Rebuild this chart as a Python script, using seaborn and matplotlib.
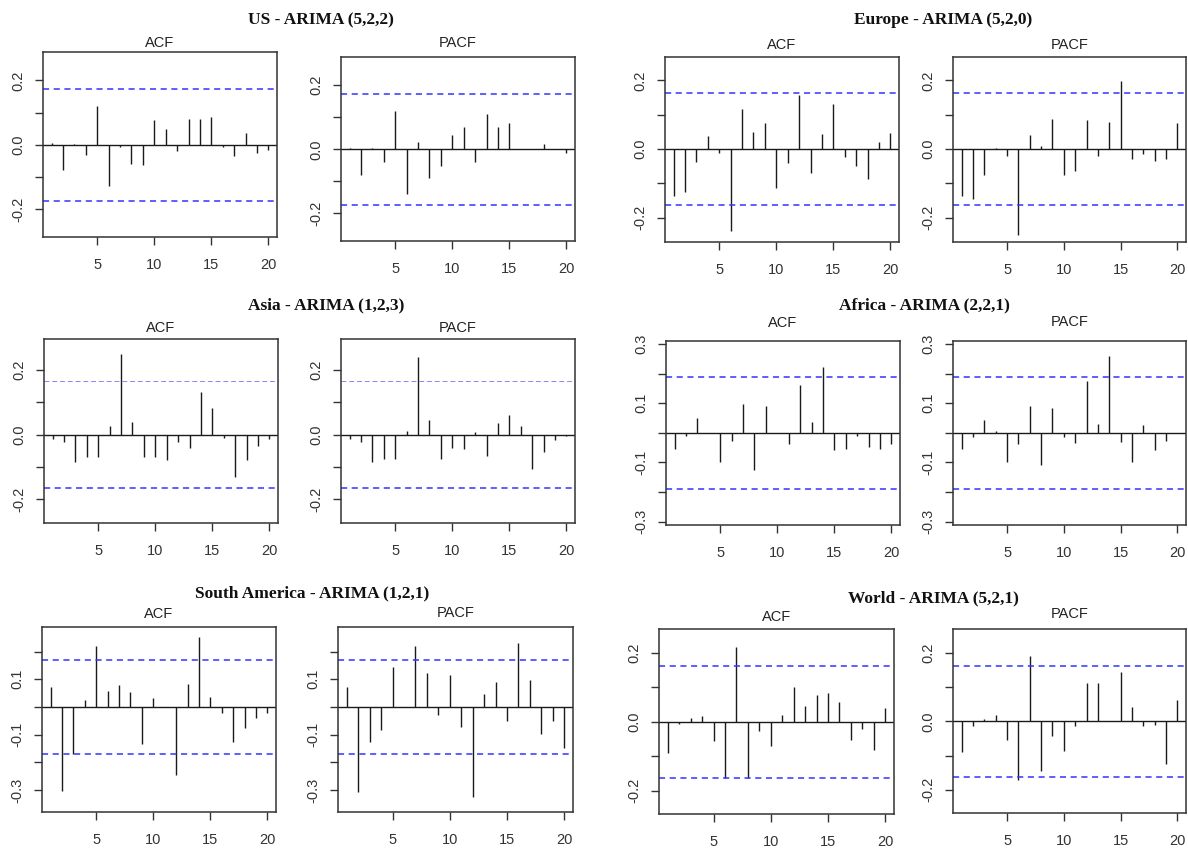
import matplotlib
matplotlib.use("Agg")
import matplotlib.pyplot as plt
import seaborn as sns
import numpy as np

# lags shown on every panel
lags = list(range(1, 21))

# residual ACF / PACF values
us_acf = [0.006, -0.078, 0.004, -0.031, 0.120, -0.128, -0.006, -0.058, -0.064, 0.076,
          0.048, -0.020, 0.081, 0.079, 0.086, -0.007, -0.035, 0.038, -0.025, -0.015]
us_pacf = [0.005, -0.081, 0.004, -0.040, 0.118, -0.140, 0.024, -0.090, -0.052, 0.046,
           0.071, -0.040, 0.110, 0.070, 0.081, 0.000, 0.000, 0.017, 0.000, -0.013]
eu_acf = [-0.138, -0.125, -0.037, 0.039, -0.013, -0.240, 0.117, 0.050, 0.076, -0.115,
          -0.042, 0.158, -0.071, 0.043, 0.132, -0.024, -0.049, -0.087, 0.019, 0.047]
eu_pacf = [-0.138, -0.147, -0.076, 0.004, -0.019, -0.250, 0.042, 0.009, 0.088, -0.076,
           -0.065, 0.085, -0.021, 0.079, 0.199, -0.028, -0.015, -0.034, -0.028, 0.076]
asia_acf = [-0.014, -0.022, -0.086, -0.071, -0.068, 0.027, 0.250, 0.040, -0.071, -0.071,
            -0.078, -0.022, -0.042, 0.131, 0.081, -0.010, -0.133, -0.078, -0.035, -0.015]
asia_pacf = [-0.014, -0.022, -0.086, -0.075, -0.075, 0.011, 0.241, 0.045, -0.075, -0.043,
             -0.045, 0.007, -0.067, 0.036, 0.062, 0.026, -0.107, -0.055, -0.018, -0.003]
africa_acf = [-0.053, -0.010, 0.049, 0.000, -0.100, -0.026, 0.097, -0.124, 0.089, 0.000,
              -0.038, 0.162, 0.035, 0.221, -0.058, -0.053, -0.010, -0.047, -0.053, -0.038]
africa_pacf = [-0.053, -0.015, 0.045, 0.006, -0.097, -0.038, 0.091, -0.109, 0.083, -0.015,
               -0.034, 0.174, 0.031, 0.260, -0.030, -0.097, 0.025, -0.057, -0.026, 0.000]
sa_acf = [0.072, -0.305, -0.169, 0.025, 0.220, 0.057, 0.081, 0.053, -0.133, 0.034,
          0.000, -0.246, 0.084, 0.252, 0.037, -0.023, -0.128, -0.078, -0.040, -0.023]
sa_pacf = [0.072, -0.307, -0.128, -0.082, 0.145, 0.000, 0.222, 0.123, -0.028, 0.114,
           -0.073, -0.325, 0.045, 0.090, -0.052, 0.231, 0.099, -0.098, -0.052, -0.148]
world_acf = [-0.091, -0.005, 0.010, 0.017, -0.057, -0.162, 0.217, -0.164, -0.026, -0.071,
             0.019, 0.101, 0.045, 0.079, 0.085, 0.058, -0.053, -0.020, -0.083, 0.040]
world_pacf = [-0.091, -0.013, 0.008, 0.020, -0.056, -0.172, 0.191, -0.145, -0.043, -0.086,
              -0.013, 0.113, 0.111, 0.000, 0.145, 0.041, -0.013, -0.010, -0.126, 0.061]

regions = ["US", "Europe", "Asia", "Africa", "South America", "World"]
orders = ["(5,2,2)", "(5,2,0)", "(1,2,3)", "(2,2,1)", "(1,2,1)", "(5,2,1)"]
acf_values = [us_acf, eu_acf, asia_acf, africa_acf, sa_acf, world_acf]
pacf_values = [us_pacf, eu_pacf, asia_pacf, africa_pacf, sa_pacf, world_pacf]
# 95% significance bounds
bounds = [0.174, 0.163, 0.166, 0.189, 0.171, 0.162]

# y-axis ranges, tick positions and labelled ticks per region
ylims = [(-0.286, 0.288), (-0.271, 0.268), (-0.274, 0.296),
         (-0.311, 0.310), (-0.380, 0.289), (-0.268, 0.270)]
yticks_small = [-0.2, -0.1, 0.0, 0.1, 0.2]
ylabels_small = ["-0.2", "", "0.0", "", "0.2"]
yticks_africa = [-0.3, -0.2, -0.1, 0.0, 0.1, 0.2, 0.3]
ylabels_africa = ["-0.3", "", "-0.1", "", "0.1", "", "0.3"]
yticks_sa = [-0.3, -0.2, -0.1, 0.0, 0.1, 0.2]
ylabels_sa = ["-0.3", "", "-0.1", "", "0.1", ""]
region_ticks = [(yticks_small, ylabels_small), (yticks_small, ylabels_small),
                (yticks_small, ylabels_small), (yticks_africa, ylabels_africa),
                (yticks_sa, ylabels_sa), (yticks_small, ylabels_small)]

# panel frames in pixels: (left, right, top, bottom) for ACF and PACF
W, H = 1188, 850
frames = [
    ((43, 277, 52, 237), (341, 575, 57, 241)),
    ((665, 899, 57, 242), (953, 1186, 57, 242)),
    ((44, 278, 339, 523), (341, 575, 339, 523)),
    ((666, 900, 341, 525), (953, 1186, 341, 525)),
    ((42, 276, 627, 812), (338, 573, 627, 812)),
    ((659, 894, 629, 814), (953, 1186, 629, 813)),
]
# group title centre (x, y) in pixels
title_pos = [(321, 20), (943, 20), (326, 305), (924, 305), (312, 593), (933, 598)]
# sub-title baseline-centre y in pixels for ACF / PACF
sub_y = [(43, 43), (45, 45), (328, 328), (323, 322), (614, 613), (617, 614)]

sns.set_theme(style="ticks")
plt.rcParams["font.family"] = ["Liberation Sans", "DejaVu Sans"]

fig = plt.figure(figsize=(W / 100, H / 100), dpi=100)
fig.patch.set_facecolor("white")

frame_col = "#333333"
blue = "#3333ff"

for r, region in enumerate(regions):
    for k, (vals, label) in enumerate([(acf_values[r], "ACF"), (pacf_values[r], "PACF")]):
        L, R, T, B = frames[r][k]
        ax = fig.add_axes([L / W, 1 - B / H, (R - L) / W, (B - T) / H])
        ax.set_facecolor("white")
        ax.vlines(lags, 0, vals, color="#1a1a1a", linewidth=1.0)
        ax.axhline(0, color="#1a1a1a", linewidth=1.0)
        lo_b, hi_b = -bounds[r], bounds[r]
        if region == "Asia":
            # upper bound drawn thinner and lighter in the source
            ax.axhline(hi_b, color="#8888ee", linewidth=0.7, linestyle=(0, (5, 3)))
        else:
            ax.axhline(hi_b, color=blue, linewidth=1.1, linestyle=(0, (4, 3)))
        ax.axhline(lo_b, color=blue, linewidth=1.1, linestyle=(0, (4, 3)))

        ax.set_xlim(0.24, 20.76)
        ax.set_ylim(*ylims[r])
        ax.set_xticks([5, 10, 15, 20])
        ax.set_xticklabels(["5", "10", "15", "20"])
        ticks, labels = region_ticks[r]
        ax.set_yticks(ticks)
        ax.set_yticklabels(labels, rotation=90, va="center")
        ax.tick_params(axis="both", length=6, width=1.0, color=frame_col,
                       labelsize=10.5, labelcolor="#333333", direction="out")
        ax.tick_params(axis="x", pad=9)
        ax.tick_params(axis="y", pad=7)
        for s in ax.spines.values():
            s.set_color(frame_col)
            s.set_linewidth(1.1)
        ax.grid(False)

        fig.text((L + R) / 2 / W, 1 - sub_y[r][k] / H, label, ha="center", va="center",
                 fontsize=10.5, color="#222222", family=["Liberation Sans", "DejaVu Sans"])

    tx, ty = title_pos[r]
    fig.text(tx / W, 1 - ty / H, f"{region} - ARIMA {orders[r]}", ha="center", va="center",
             fontsize=12.5, fontweight="bold", color="#111111",
             family=["Liberation Serif", "DejaVu Serif"])

fig.savefig("out.png", dpi=100, facecolor="white")
